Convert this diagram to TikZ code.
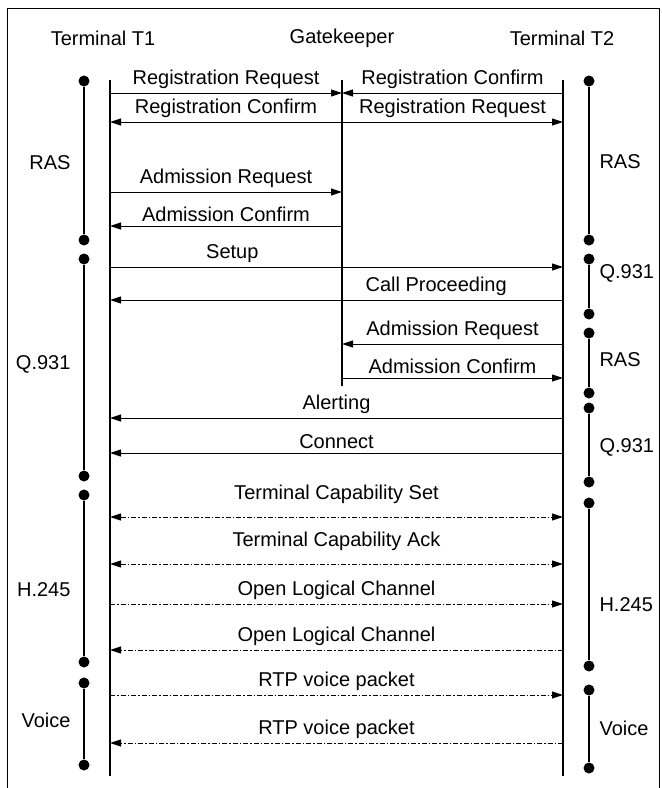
\documentclass[tikz,border=0pt]{standalone}
\usepackage{fontspec}
\setmainfont{Liberation Sans}
\usepackage{tikz}
\usetikzlibrary{arrows.meta}
% message: name, x from, x to, y, arrow style, label options, label
\newcommand{\msg}[7]{\coordinate (#1s) at (#2,#4); \coordinate (#1e) at (#3,#4); \draw[#5] (#1s) -- node[lbl,#6] (#1l) {#7} (#1e);}
% phase bar: name, x, y top, y bottom, label side, label y, label
\newcommand{\phase}[7]{\node[dot] (#1a) at (#2,#3) {}; \node[dot] (#1b) at (#2,#4) {}; \draw[bar] (#1a) -- (#1b); \node[#5] (#1l) at (#2,#6) {#7};}

\begin{document}
\begin{tikzpicture}[x=1pt,y=-1pt,font=\fontsize{20}{24}\selectfont,
    dot/.style={circle,fill=black,inner sep=0pt,minimum size=11pt},
    bar/.style={line width=1.5pt},
    life/.style={line width=1.3pt},
    sig/.style={line width=1pt,-{Triangle[length=11pt,width=7pt]}},
    dsig/.style={sig,dash pattern=on 5pt off 2pt on 1.5pt off 2pt},
    ddsig/.style={dsig,{Triangle[length=11pt,width=7pt]}-{Triangle[length=11pt,width=7pt]}},
    lbl/.style={above=3pt,inner sep=1pt},
    dlbl/.style={above=9pt},
    lside/.style={anchor=east,xshift=-10pt},
    rside/.style={anchor=west,xshift=7pt}]
    \useasboundingbox (0,0) rectangle (662,788);
    \draw[line width=1pt] (7,788) -- (7,8) -- (659,8) -- (659,788);
    % headers and lifelines
    \node (t1) at (103,38) {Terminal T1};
    \node (gk) at (342,38) {Gatekeeper};
    \node (t2) at (562,38) {Terminal T2};
    \coordinate (t1top) at (110,80); \coordinate (t1bot) at (110,776);
    \coordinate (gktop) at (342,80); \coordinate (gkbot) at (342,386);
    \coordinate (t2top) at (563,80); \coordinate (t2bot) at (563,776);
    \draw[life] (t1top) -- (t1bot);
    \draw[life] (gktop) -- (gkbot);
    \draw[life] (t2top) -- (t2bot);
    % RAS / Q.931 signalling
    \msg{rrq1}{110}{342}{93}{sig}{}{Registration Request}
    \msg{rcf2}{563}{342}{93}{sig}{}{Registration Confirm}
    \msg{rcf1}{342}{110}{122}{sig}{}{Registration Confirm}
    \msg{rrq2}{342}{563}{122}{sig}{}{Registration Request}
    \msg{arq1}{110}{342}{192}{sig}{}{Admission Request}
    \msg{acf1}{342}{110}{226}{sig}{}{Admission Confirm}
    \msg{setup}{110}{563}{267}{sig}{pos=0.27}{Setup}
    \msg{proc}{563}{110}{300}{sig}{pos=0.28}{Call Proceeding}
    \msg{arq2}{563}{342}{344}{sig}{}{Admission Request}
    \msg{acf2}{342}{563}{378}{sig}{}{Admission Confirm}
    \msg{alert}{563}{110}{418}{sig}{}{Alerting}
    \msg{conn}{563}{110}{453}{sig}{}{Connect}
    % H.245 and voice
    \msg{tcs}{110}{563}{517}{ddsig}{dlbl}{Terminal Capability Set}
    \msg{tca}{110}{563}{564}{ddsig}{dlbl}{Terminal Capability Ack}
    \msg{olc1}{110}{563}{604}{dsig}{}{Open Logical Channel}
    \msg{olc2}{563}{110}{650}{dsig}{}{Open Logical Channel}
    \msg{rtp1}{110}{563}{695}{dsig}{}{RTP voice packet}
    \msg{rtp2}{563}{110}{743}{dsig}{}{RTP voice packet}
    % phases
    \phase{lras}{84}{81}{240}{lside}{163}{RAS}
    \phase{lq}{84}{259}{476}{lside}{364}{Q.931}
    \phase{lh}{84}{495}{662}{lside}{590}{H.245}
    \phase{lv}{84}{683}{765}{lside}{720}{Voice}
    \phase{rras}{589}{81}{240}{rside}{162}{RAS}
    \phase{rq1}{589}{259}{314}{rside}{273}{Q.931}
    \phase{rras2}{589}{333}{393}{rside}{360}{RAS}
    \phase{rq2}{589}{408}{482}{rside}{447}{Q.931}
    \phase{rh}{589}{503}{666}{rside}{605}{H.245}
    \phase{rv}{589}{690}{768}{rside}{728}{Voice}
\end{tikzpicture}
\end{document}
